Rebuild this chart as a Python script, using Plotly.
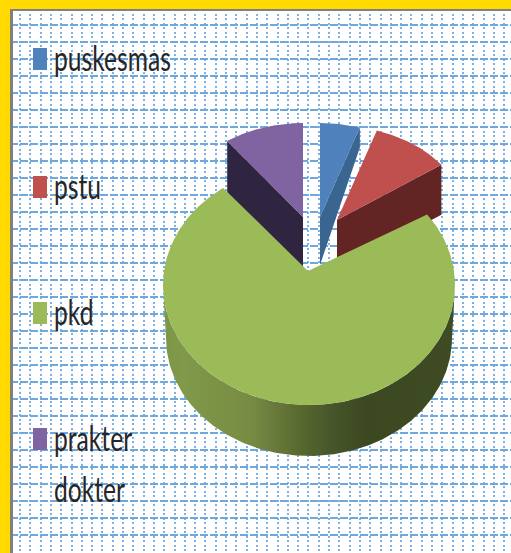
import math
import plotly.graph_objects as go

categories = ["puskesmas", "pstu", "pkd", "prakter dokter"]
values = [5, 10, 75, 10]
top_colors = ["#4F81BD", "#C0504D", "#9BBB59", "#8064A2"]
side_colors = ["#3A6591", "#632523", "#6F8A3A", "#302540"]

W, H = 511, 553
L, T = 10, 9

# tip, rim centre, radii, depth of each exploded slice in pixels
geom = [
    dict(tip=(320, 217), c=(320, 217), rx=129, ry=94, d=48),
    dict(tip=(337, 220), c=(337, 220), rx=129, ry=94, d=50),
    dict(tip=(308, 271), c=(309, 285), rx=146, ry=120, d=51),
    dict(tip=(303, 217), c=(303, 217), rx=129, ry=94, d=52),
]
base_green = dict(c=(309, 338), rx=143, ry=118)


def rim(g, a0, a1, n=90):
    pts = []
    for i in range(n + 1):
        a = math.radians(a0 + (a1 - a0) * i / n)
        pts.append((g["c"][0] + g["rx"] * math.sin(a), g["c"][1] - g["ry"] * math.cos(a)))
    return pts


fig = go.Figure()


def poly(pts, color=None, **kw):
    xs = [p[0] for p in pts] + [pts[0][0]]
    ys = [p[1] for p in pts] + [pts[0][1]]
    args = dict(x=xs, y=ys, mode="lines", fill="toself", line=dict(width=0), hoverinfo="skip", showlegend=False)
    if color:
        args["fillcolor"] = color
    args.update(kw)
    fig.add_trace(go.Scatter(**args))


total = sum(values)
angles = []
acc = 0
for v in values:
    angles.append((acc, acc + v / total * 360))
    acc += v / total * 360

# back faces first: purple, blue, red, then the large slice
pa0, pa1 = angles[3]
g = geom[3]
left = rim(g, pa0, pa0, 1)[0]
poly([left, g["tip"], (g["tip"][0], g["tip"][1] + g["d"]), (left[0], left[1] + g["d"])], side_colors[3])
poly([g["tip"]] + rim(g, pa0, pa1), top_colors[3])

ba0, ba1 = angles[0]
g = geom[0]
right = rim(g, ba1, ba1, 1)[0]
poly([right, g["tip"], (g["tip"][0], g["tip"][1] + g["d"]), (right[0], right[1] + 20)], side_colors[0])
poly([g["tip"]] + rim(g, ba0, ba1), top_colors[0])

ra0, ra1 = angles[1]
g = geom[1]
right = rim(g, ra1, ra1, 1)[0]
poly([g["tip"], right, (right[0], right[1] + g["d"]), (g["tip"][0], g["tip"][1] + g["d"])], side_colors[1])
poly([g["tip"]] + rim(g, ra0, ra1), top_colors[1])

ga0, ga1 = angles[2]
g = geom[2]
outer = rim(g, ga0, ga1, 240)
low = rim(g, 90, 270, 180)
wall = low + list(reversed(rim(base_green, 90, 270, 180)))
poly(
    wall,
    fillgradient=dict(
        type="horizontal",
        colorscale=[
            [0, "#7C9646"], [0.07, "#80994A"], [0.3, "#778C42"], [0.36, "#6E7E3E"],
            [0.47, "#58692F"], [0.58, "#46552A"], [0.7, "#3C4820"], [1, "#3F4C23"],
        ],
    ),
)
poly([g["tip"]] + outer, top_colors[2])

# legend
legend_y = [59, 187, 313, 439]
legend_lines = [["puskesmas"], ["pstu"], ["pkd"], ["prakter", "dokter"]]
shapes = [
    dict(type="rect", xref="x", yref="y", x0=L, x1=W, y0=T - 1, y1=T + 2, fillcolor="#808080", line=dict(width=0), layer="above"),
    dict(type="rect", xref="x", yref="y", x0=L, x1=L + 3, y0=T, y1=H, fillcolor="#808080", line=dict(width=0), layer="above"),
]
for y, lines, c, name in zip(legend_y, legend_lines, top_colors, categories):
    shapes.append(dict(type="rect", xref="x", yref="y", x0=33, x1=47, y0=y - 11, y1=y + 11,
                       fillcolor=c, line=dict(width=0), layer="above"))
    for i, t in enumerate(lines):
        fig.add_annotation(x=52, y=y - 2 + i * 51, text=t, showarrow=False, xanchor="left", yanchor="middle",
                           xref="x", yref="y",
                           font=dict(family="Lato", size=34, color="#262626"))

fig.update_layout(
    width=W, height=H, autosize=False,
    margin=dict(l=L, r=0, t=T, b=0),
    paper_bgcolor="#FFD900",
    plot_bgcolor="#FFFFFF",
    showlegend=False,
    shapes=shapes,
    xaxis=dict(range=[L, W], showticklabels=False, ticks="", zeroline=False, layer="below traces",
               tick0=20, dtick=10.3, showgrid=True, griddash="2px,2.5px", gridcolor="#7FB2E0", gridwidth=2,
               showline=False),
    yaxis=dict(range=[H, T], showticklabels=False, ticks="", zeroline=False, layer="below traces",
               tick0=25, dtick=17, showgrid=True, griddash="8px,2px", gridcolor="#6FA8DC", gridwidth=2,
               showline=False),
)

# page margin off, legend text narrowed horizontally to the reference's condensed look
post = """
document.body.style.margin='0';
document.querySelectorAll('.annotation-text').forEach(function(t){
  var b=t.getBBox();
  t.setAttribute('transform','translate('+b.x+',0) scale(0.725,1) translate('+(-b.x)+',0)');
});
"""
fig.write_html("out.html", post_script=post, config={"displayModeBar": False})
